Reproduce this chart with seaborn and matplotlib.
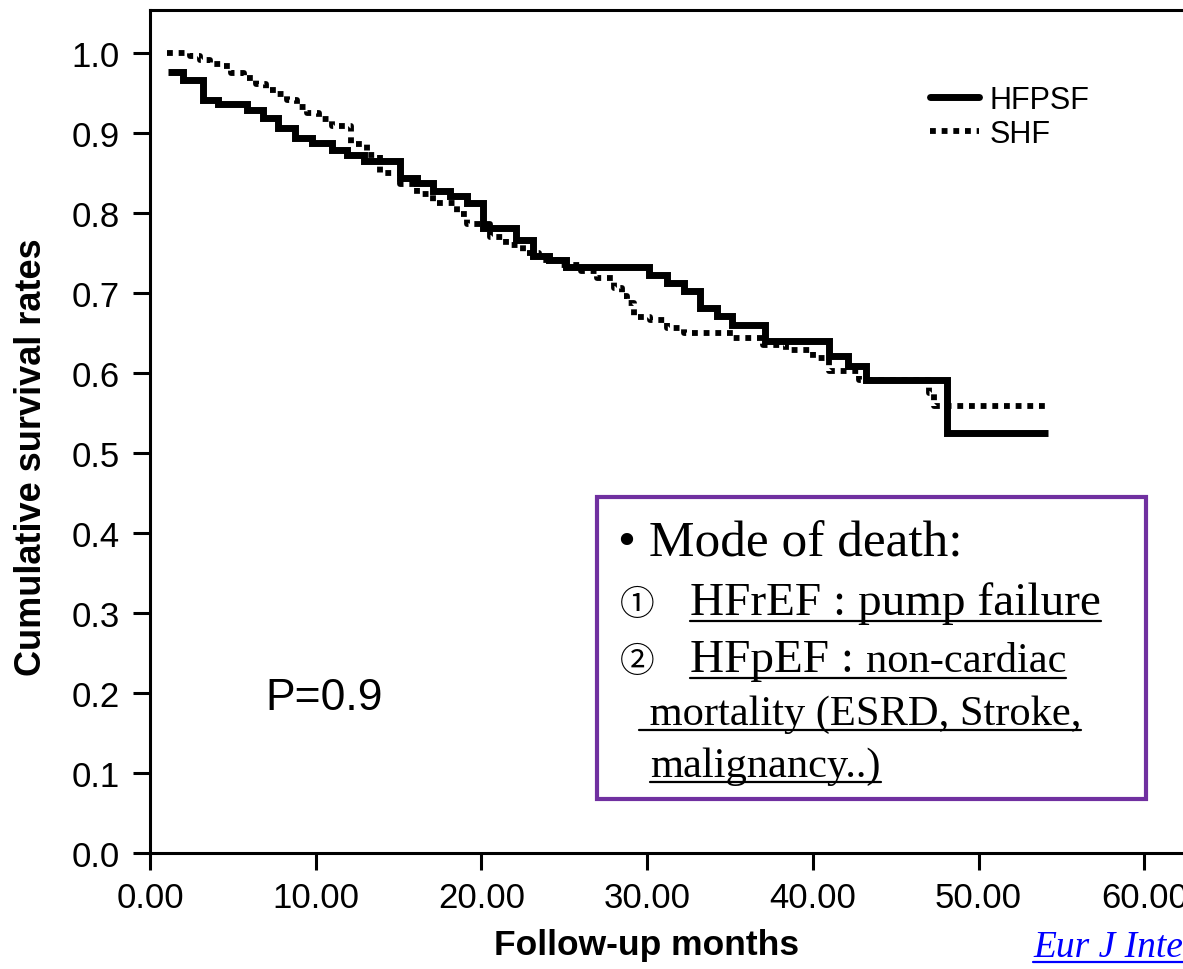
import numpy as np
import pandas as pd
import matplotlib
matplotlib.use('Agg')
import matplotlib.pyplot as plt
import seaborn as sns
from matplotlib.lines import Line2D
from matplotlib.patches import Rectangle

# Kaplan-Meier steps (month where a level starts, survival)
hfpsf_months = [1.1, 2.0, 3.2, 4.1, 5.85, 6.8, 7.7, 8.75, 9.8, 11.0, 11.9, 12.9,
                15.1, 16.1, 17.1, 18.1, 19.1, 20.1, 22.1, 23.1, 24.1, 25.1, 30.1,
                31.2, 32.2, 33.2, 34.2, 35.1, 37.1, 41.0, 42.1, 43.2, 48.1, 54.2]
hfpsf_surv = [0.977, 0.966, 0.942, 0.936, 0.929, 0.919, 0.906, 0.894, 0.888, 0.879,
              0.873, 0.865, 0.844, 0.838, 0.828, 0.821, 0.813, 0.781, 0.766, 0.746,
              0.741, 0.733, 0.723, 0.713, 0.703, 0.681, 0.671, 0.660, 0.640, 0.621,
              0.609, 0.591, 0.525, 0.525]

shf_months = [1.0, 2.4, 3.0, 3.6, 4.3, 4.9, 5.7, 6.4, 7.0, 7.6, 8.25, 8.85, 9.5,
              10.2, 11.0, 12.1, 13.1, 13.9, 15.1, 16.1, 17.1, 18.5, 19.1, 20.5,
              21.5, 22.5, 23.5, 24.7, 26.0, 27.0, 28.0, 28.5, 28.8, 29.2, 30.2,
              31.2, 32.2, 35.2, 37.0, 38.4, 40.0, 41.0, 42.8, 47.0, 47.3, 54.0]
shf_surv = [1.0, 0.997, 0.992, 0.987, 0.984, 0.975, 0.969, 0.961, 0.954, 0.949,
            0.942, 0.933, 0.925, 0.918, 0.909, 0.886, 0.873, 0.850, 0.836, 0.824,
            0.813, 0.799, 0.786, 0.770, 0.760, 0.750, 0.741, 0.735, 0.728, 0.719,
            0.706, 0.697, 0.688, 0.670, 0.666, 0.656, 0.650, 0.644, 0.635, 0.629,
            0.619, 0.603, 0.591, 0.575, 0.559, 0.559]

x_ticks = [0, 10, 20, 30, 40, 50, 60]
y_ticks = [0.0, 0.1, 0.2, 0.3, 0.4, 0.5, 0.6, 0.7, 0.8, 0.9, 1.0]
series_names = ['HFPSF', 'SHF']

sns.set_style('ticks')
plt.rcParams['font.family'] = ['Liberation Sans', 'DejaVu Sans']
plt.rcParams['text.color'] = 'black'
plt.rcParams['axes.labelcolor'] = 'black'
plt.rcParams['xtick.color'] = 'black'
plt.rcParams['ytick.color'] = 'black'

W, H = 1183, 970
fig = plt.figure(figsize=(W / 100, H / 100), dpi=100)
ax = fig.add_axes([150 / W, (H - 854) / H, 1044 / W, 843 / H])

sns.lineplot(x=hfpsf_months, y=hfpsf_surv, ax=ax, color='black', lw=5,
             drawstyle='steps-post', estimator=None, sort=False,
             solid_joinstyle='miter', solid_capstyle='butt')
sns.lineplot(x=shf_months, y=shf_surv, ax=ax, color='black', lw=4.2,
             drawstyle='steps-post', estimator=None, sort=False,
             linestyle=(0, (1, 1)), dash_capstyle='butt')

ax.set_xlim(0, 63)
ax.set_ylim(0, 1.054)
ax.set_xticks(x_ticks)
ax.set_xticklabels([f'{v:.2f}' for v in x_ticks])
ax.set_yticks(y_ticks)
ax.set_yticklabels([f'{v:.1f}' for v in y_ticks])
ax.tick_params(axis='both', direction='out', length=12, width=2.2, labelsize=25,
               color='black', labelcolor='black')
ax.tick_params(axis='y', pad=10)
ax.tick_params(axis='x', pad=8)
for s in ['left', 'bottom', 'top']:
    ax.spines[s].set_linewidth(2.2)
    ax.spines[s].set_color('black')
ax.spines['right'].set_visible(False)

ax.set_xlabel('Follow-up months', fontsize=25.5, fontweight='bold', color='black')
ax.set_ylabel('Cumulative survival rates', fontsize=26, fontweight='bold', color='black')
ax.xaxis.set_label_coords((647 - 150) / 1044, (854 - 929) / 843)
ax.yaxis.set_label_coords((49 - 150) / 1044, (854 - 457) / 843)

handles = [Line2D([0], [0], color='black', lw=5),
           Line2D([0], [0], color='black', lw=4.2, ls=(0, (1, 1)))]
fig.legend(handles, series_names, loc='upper left',
           bbox_to_anchor=(930 / W, 1 - 86 / H), frameon=False, fontsize=22,
           handlelength=1.6, handletextpad=0.35, labelspacing=0.12,
           borderpad=0, borderaxespad=0)

fig.text(265 / W, 1 - 710 / H, 'P=0.9', fontsize=32, va='baseline', ha='left',
         color='black')

# annotation box
purple = '#7030A0'
fig.patches.append(Rectangle((597 / W, 1 - 800 / H), (1146 - 597) / W, (800 - 498) / H,
                             transform=fig.transFigure, fill=False,
                             edgecolor=purple, lw=3, zorder=5))
serif = ['Liberation Serif', 'Noto Sans CJK JP', 'DejaVu Sans']
big, small = 34, 30.6


def put(x, y, s, size, **kw):
    return fig.text(x / W, 1 - y / H, s, fontsize=size, family=serif,
                    va='baseline', ha='left', color='black', **kw)


put(618, 557, '\u2022 Mode of death:', 37)
put(620, 615, '\u2460', 25)
put(620, 672, '\u2461', 25)
t_a = put(690, 615, 'HFrEF : pump failure', big)
t_b = put(690, 672, 'HFpEF : ', big)
t_d = put(639, 725, ' mortality (ESRD, Stroke,', small)
t_e = put(650, 777, 'malignancy..)', small)
cite = fig.text(1033 / W, 1 - 957 / H, 'Eur J Intern Med', fontsize=27,
                family=['Liberation Serif'], style='italic', color='#0000FF',
                va='baseline', ha='left')

fig.canvas.draw()
r = fig.canvas.get_renderer()
bb_b = t_b.get_window_extent(r)
t_c = put(bb_b.x1, 672, 'non-cardiac', small)
fig.canvas.draw()


def underline(texts, y, color='black', lw=1.6):
    x0 = min(t.get_window_extent(r).x0 for t in texts)
    x1 = max(t.get_window_extent(r).x1 for t in texts)
    fig.lines.append(Line2D([x0 / W, x1 / W], [1 - y / H, 1 - y / H],
                            transform=fig.transFigure, color=color, lw=lw))


underline([t_a], 622)
underline([t_b, t_c], 679)
underline([t_d], 731)
underline([t_e], 783)
underline([cite], 963, color='#0000FF')

fig.savefig('out.png', dpi=100)
